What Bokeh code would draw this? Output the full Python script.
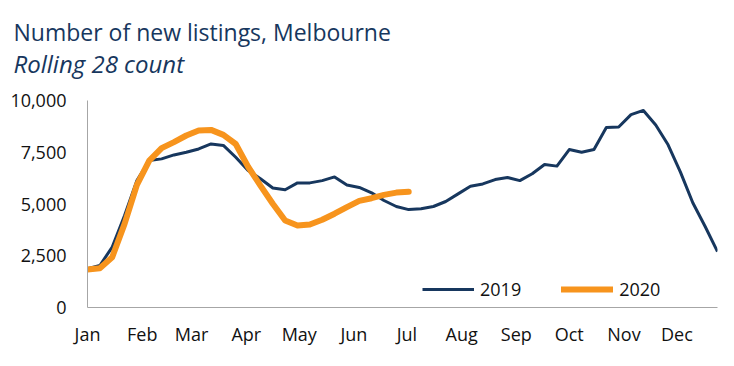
from bokeh.plotting import figure
from bokeh.models import FixedTicker, NumeralTickFormatter, Legend, LegendItem, Title
from bokeh.embed import file_html
from bokeh.resources import INLINE

# Data: weekly rolling-28-day counts, x = day of year
days_2019 = [7 * i for i in range(52)]
listings_2019 = [1870, 2030, 2920, 4440, 6130, 7100, 7180, 7370, 7500, 7660,
                 7900, 7830, 7260, 6620, 6220, 5770, 5690, 6020, 6020, 6130,
                 6310, 5920, 5800, 5540, 5170, 4880, 4730, 4770, 4880, 5120,
                 5490, 5860, 5970, 6180, 6280, 6130, 6460, 6910, 6830, 7630,
                 7500, 7630, 8700, 8720, 9320, 9520, 8820, 7860, 6540, 5060,
                 3910, 2700]
days_2020 = [7 * i for i in range(27)]
listings_2020 = [1840, 1900, 2430, 4040, 5920, 7100, 7700, 7990, 8310, 8550,
                 8580, 8340, 7900, 6800, 5890, 5010, 4200, 3960, 4010, 4240,
                 4530, 4850, 5150, 5280, 5440, 5550, 5590]

month_start_days = [0, 31, 59, 90, 120, 151, 181, 212, 243, 273, 304, 334]
month_labels = ["Jan", "Feb", "Mar", "Apr", "May", "Jun", "Jul", "Aug",
                "Sep", "Oct", "Nov", "Dec"]
y_ticks = [0, 2500, 5000, 7500, 10000]
series_names = ["2019", "2020"]
title_text = "Number of new listings, Melbourne"
subtitle_text = "Rolling 28 count"

NAVY = "#17375e"
ORANGE = "#f7941d"
FONT = "Open Sans"

p = figure(width=718, height=350, x_range=(0, 357), y_range=(0, 10000),
           output_backend="svg", toolbar_location=None,
           min_border_left=87, min_border_right=1, min_border_bottom=43,
           min_border_top=100)
p.title.visible = False

p.add_layout(Title(text=subtitle_text, text_font=FONT, text_font_size="24px",
                   text_font_style="italic", text_color=NAVY, align="left",
                   offset=-74, standoff=41), "above")
p.add_layout(Title(text=title_text, text_font=FONT,
                   text_font_size="23px", text_font_style="normal",
                   text_color=NAVY, align="left", offset=-74, standoff=-47), "above")

r19 = p.line(days_2019, listings_2019, line_color=NAVY, line_width=3,
             line_join="round")
r20 = p.line(days_2020, listings_2020, line_color=ORANGE, line_width=6,
             line_join="round", line_cap="round")

p.xgrid.visible = False
p.ygrid.visible = False
p.outline_line_color = None
p.background_fill_color = "white"
p.border_fill_color = "white"

for ax in (p.xaxis[0], p.yaxis[0]):
    ax.axis_line_color = "#a6a6a6"
    ax.axis_line_width = 1
    ax.major_tick_line_color = None
    ax.minor_tick_line_color = None
    ax.major_label_text_font = FONT
    ax.major_label_text_font_size = "18px"
    ax.major_label_text_color = "#111111"

p.yaxis[0].ticker = FixedTicker(ticks=y_ticks)
p.yaxis[0].formatter = NumeralTickFormatter(format="0,0")
p.yaxis[0].major_label_standoff = 15

p.xaxis[0].ticker = FixedTicker(ticks=month_start_days)
p.xaxis[0].major_label_overrides = {d: m for d, m in zip(month_start_days, month_labels)}
p.xaxis[0].major_label_standoff = 8

legend = Legend(items=[LegendItem(label=series_names[0], renderers=[r19]),
                       LegendItem(label=series_names[1], renderers=[r20])],
                orientation="horizontal", location=(335, 6),
                glyph_width=52, glyph_height=20, label_standoff=6, spacing=40,
                padding=0, margin=0, border_line_alpha=0,
                background_fill_alpha=0, label_text_font=FONT,
                label_text_font_size="18px", label_text_color="#111111")
p.add_layout(legend)

open("out.html", "w").write(file_html(p, INLINE))
